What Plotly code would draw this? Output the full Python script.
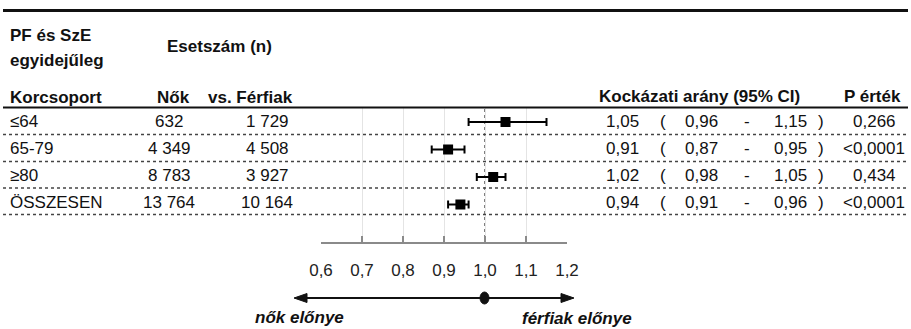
import plotly.graph_objects as go

# ---------------- data ----------------
age_groups = ["≤64", "65-79", "≥80", "ÖSSZESEN"]
n_women = ["632", "4 349", "8 783", "13 764"]
n_men = ["1 729", "4 508", "3 927", "10 164"]
hr = [1.05, 0.91, 1.02, 0.94]
ci_low = [0.96, 0.87, 0.98, 0.91]
ci_high = [1.15, 0.95, 1.05, 0.96]
hr_txt = ["1,05", "0,91", "1,02", "0,94"]
lo_txt = ["0,96", "0,87", "0,98", "0,91"]
hi_txt = ["1,15", "0,95", "1,05", "0,96"]
p_txt = ["0,266", "<0,0001", "0,434", "<0,0001"]
tick_vals = [0.6, 0.7, 0.8, 0.9, 1.0, 1.1, 1.2]
tick_text = ["0,6", "0,7", "0,8", "0,9", "1,0", "1,1", "1,2"]

W, H = 911, 329
FONT = "Liberation Sans, Arial, sans-serif"
FS = 17
TXT = "#111111"


def px(x):
    return x / W


def py(y):
    return 1 - y / H


fig = go.Figure()

fig.add_trace(go.Scatter(
    x=hr, y=list(range(len(age_groups))),
    mode="markers",
    marker=dict(symbol="square", size=10, color="black"),
    error_x=dict(type="data", symmetric=False,
                 array=[h - c for c, h in zip(hr, ci_high)],
                 arrayminus=[c - l for c, l in zip(hr, ci_low)],
                 color="black", thickness=2, width=4),
    hoverinfo="skip", showlegend=False,
))

ann = []


def T(x, y, text, xanchor="center", bold=False, italic=False, size=FS):
    t = text
    if bold:
        t = f"<b>{t}</b>"
    if italic:
        t = f"<i>{t}</i>"
    ann.append(dict(x=px(x), y=py(y), xref="paper", yref="paper", text=t,
                    showarrow=False, xanchor=xanchor, yanchor="middle",
                    borderpad=0,
                    font=dict(family=FONT, size=size, color=TXT)))


# headers
T(9, 35, "PF és SzE", "left", bold=True)
T(9, 60, "egyidejűleg", "left", bold=True)
T(219, 47, "Esetszám (n)", bold=True)
T(9, 97, "Korcsoport", "left", bold=True)
T(173, 97, "Nők", bold=True)
T(250, 97, "vs. Férfiak", bold=True)
T(699, 96, "Kockázati arány (95% CI)", bold=True)
T(872, 96, "P érték", bold=True)

# rows
for i in range(len(age_groups)):
    yy = 121 + 27.2 * i
    T(9, yy, age_groups[i], "left")
    T(169, yy, n_women[i])
    T(267, yy, n_men[i])
    T(640, yy, hr_txt[i], "right")
    T(663, yy, "(")
    T(701, yy, lo_txt[i])
    T(747, yy, "-")
    T(790, yy, hi_txt[i])
    T(821, yy, ")")
    T(874, yy, p_txt[i])

T(299, 317, "nők előnye", bold=True, italic=True)
T(577, 318, "férfiak előnye", bold=True, italic=True)

shapes = []
# top thick rule
shapes.append(dict(type="line", xref="paper", yref="paper", x0=px(3), x1=px(908),
                   y0=py(10.5), y1=py(10.5), line=dict(color="#111", width=3)))
# header rule
shapes.append(dict(type="line", xref="paper", yref="paper", x0=px(3), x1=px(908),
                   y0=py(107.5), y1=py(107.5), line=dict(color="#111", width=2)))
# dotted row separators
for yy in [134.5, 161.5, 188, 214.5]:
    shapes.append(dict(type="line", xref="paper", yref="paper", x0=px(3), x1=px(908),
                       y0=py(yy), y1=py(yy),
                       line=dict(color="#444", width=1.5, dash="dot")))
# reference line at 1.0
shapes.append(dict(type="line", xref="x", yref="paper", x0=1.0, x1=1.0,
                   y0=py(238), y1=py(108), layer="below",
                   line=dict(color="#555", width=1.5, dash="dot")))
# bottom arrow
ay = py(298)
shapes.append(dict(type="line", xref="paper", yref="paper", x0=px(305), x1=px(563),
                   y0=ay, y1=ay, line=dict(color="#111", width=2)))
shapes.append(dict(type="path", xref="paper", yref="paper",
                   path=f"M {px(294)} {ay} L {px(307)} {py(293.5)} L {px(307)} {py(302.5)} Z",
                   fillcolor="#111", line=dict(color="#111", width=1)))
shapes.append(dict(type="path", xref="paper", yref="paper",
                   path=f"M {px(574)} {ay} L {px(561)} {py(293.5)} L {px(561)} {py(302.5)} Z",
                   fillcolor="#111", line=dict(color="#111", width=1)))
shapes.append(dict(type="circle", xref="paper", yref="paper",
                   x0=px(480), x1=px(489), y0=py(292), y1=py(304),
                   fillcolor="#111", line=dict(color="#111", width=1)))

row0, step = 122, 27.5
top_px, bot_px = 107.5, 242

fig.update_layout(
    width=W, height=H,
    margin=dict(l=0, r=0, t=0, b=0, pad=0, autoexpand=False),
    paper_bgcolor="white", plot_bgcolor="white",
    annotations=ann, shapes=shapes,
    xaxis=dict(domain=[px(321), px(567)], range=[0.6, 1.2],
               tickvals=tick_vals, ticktext=tick_text,
               showgrid=True, gridcolor="#e4e4e4", gridwidth=1,
               showline=True, linecolor="#8a8a8a", linewidth=1.5,
               ticks="inside", ticklen=6, tickcolor="#8a8a8a", tickwidth=1.5,
               ticklabelstandoff=12, automargin=False,
               tickfont=dict(family=FONT, size=FS, color="#222"),
               zeroline=False, fixedrange=True),
    yaxis=dict(domain=[py(bot_px), py(top_px)],
               range=[(bot_px - row0) / step, (top_px - row0) / step],
               showgrid=False, zeroline=False, showticklabels=False,
               showline=False, ticks="", fixedrange=True, automargin=False),
)

fig.write_html("out.html", config={"displayModeBar": False})
